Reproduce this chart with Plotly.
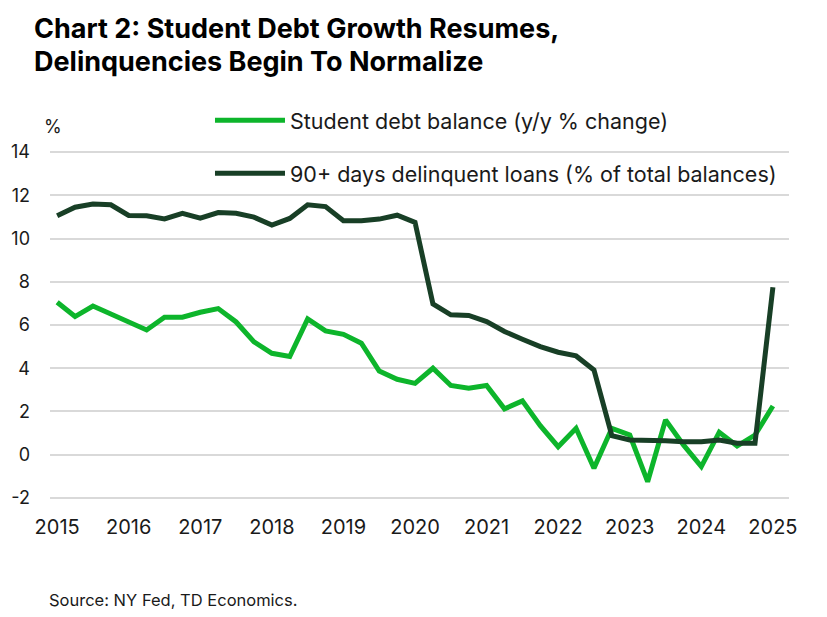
import plotly.graph_objects as go

years = ["2015", "2016", "2017", "2018", "2019", "2020", "2021", "2022", "2023", "2024", "2025"]
quarters = list(range(41))  # 2015Q1 .. 2025Q1

student_debt_growth = [7.05, 6.39, 6.88, 6.51, 6.11, 5.77, 6.36, 6.36, 6.59, 6.76,
                       6.14, 5.22, 4.69, 4.54, 6.28, 5.73, 5.57, 5.16, 3.87, 3.49,
                       3.30, 4.00, 3.20, 3.07, 3.20, 2.12, 2.49, 1.34, 0.37, 1.22,
                       -0.63, 1.22, 0.91, -1.25, 1.61, 0.45, -0.55, 1.04, 0.40, 0.91,
                       2.25]
delinquent_share = [11.05, 11.45, 11.60, 11.56, 11.07, 11.05, 10.91, 11.17, 10.94, 11.20,
                    11.17, 10.99, 10.62, 10.93, 11.56, 11.48, 10.82, 10.82, 10.90, 11.08,
                    10.75, 6.98, 6.47, 6.44, 6.16, 5.70, 5.34, 5.00, 4.74, 4.57,
                    3.92, 0.88, 0.68, 0.68, 0.65, 0.60, 0.60, 0.68, 0.53, 0.53,
                    7.75]
y_ticks = [-2, 0, 2, 4, 6, 8, 10, 12, 14]
y_labels = ["-2", "0", "2", "4", "6", "8", "10", "12", "14"]

GREEN = "#0DB52B"
DARK = "#183F26"
FONT = "Inter"
TXT = "#1a1a1a"

fig = go.Figure()
fig.add_trace(go.Scatter(x=quarters, y=student_debt_growth, mode="lines",
                         name="Student debt balance (y/y % change)",
                         line=dict(color=GREEN, width=5), legendgroup="a"))
fig.add_trace(go.Scatter(x=quarters, y=delinquent_share, mode="lines",
                         name="90+ days delinquent loans (% of total balances)",
                         line=dict(color=DARK, width=5), legendgroup="b"))

fig.update_layout(
    width=819, height=609,
    margin=dict(l=42, r=38, t=143, b=118),
    paper_bgcolor="white", plot_bgcolor="white",
    font=dict(family=FONT, size=20, color=TXT),
    showlegend=True,
    legend=dict(x=0.2165, xanchor="left", y=1.147, yanchor="top",
                bgcolor="rgba(0,0,0,0)", font=dict(size=21.5, color=TXT),
                itemwidth=70, tracegroupgap=22, traceorder="grouped"),
    xaxis=dict(range=[-0.4, 40.9], tickmode="array",
               tickvals=[i * 4 for i in range(len(years))], ticktext=years,
               showgrid=False, zeroline=False, showline=False, automargin=False,
               ticks="", ticklabelstandoff=14,
               tickfont=dict(size=20, color=TXT)),
    yaxis=dict(range=[-2.05, 14.05], tickmode="array", tickvals=y_ticks, ticktext=y_labels,
               showgrid=True, gridcolor="#D9D9D9", gridwidth=2, automargin=False,
               zeroline=False, showline=False, ticks="", ticklabelstandoff=19,
               tickfont=dict(size=18, color=TXT)),
)

fig.add_annotation(text="<b>Chart 2: Student Debt Growth Resumes,</b>", xref="paper", yref="paper",
                   x=-0.0244, y=1.353, xanchor="left", yanchor="middle", showarrow=False,
                   font=dict(family=FONT, size=27, color="black"))
fig.add_annotation(text="<b>Delinquencies Begin To Normalize</b>", xref="paper", yref="paper",
                   x=-0.0244, y=1.256, xanchor="left", yanchor="middle", showarrow=False,
                   font=dict(family=FONT, size=27, color="black"))
fig.add_annotation(text="%", xref="paper", yref="paper", x=0.004, y=1.069,
                   xanchor="center", yanchor="middle", showarrow=False,
                   font=dict(size=18, color=TXT))
fig.add_annotation(text="Source: NY Fed, TD Economics.", xref="paper", yref="paper",
                   x=-0.004, y=-0.290, xanchor="left", yanchor="middle", showarrow=False,
                   font=dict(size=16.5, color=TXT))

fig.write_html("out.html")
